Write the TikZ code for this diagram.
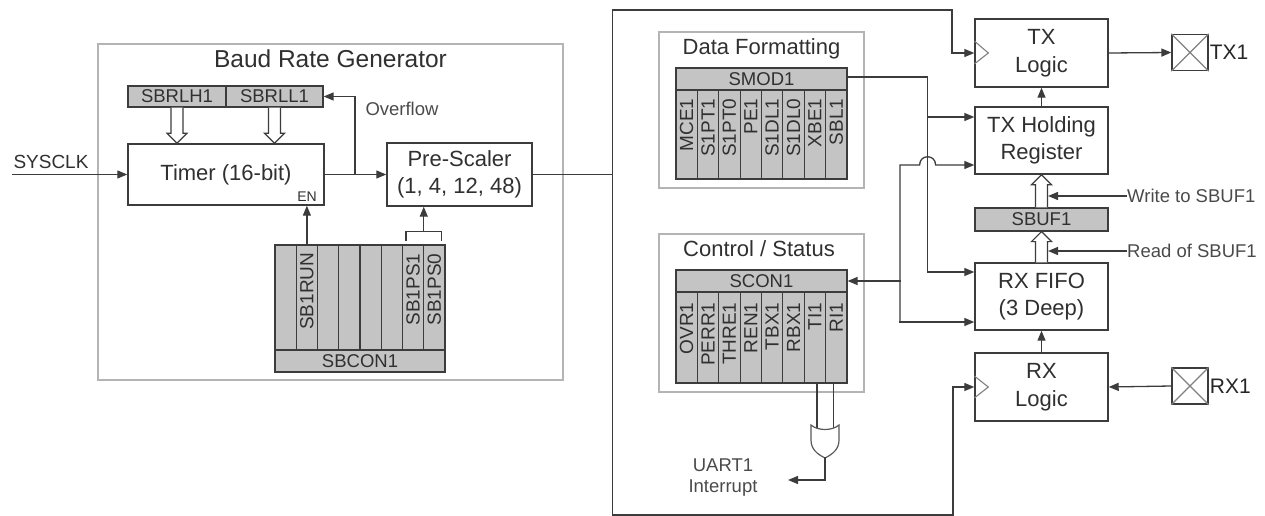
\documentclass[tikz,border=0pt]{standalone}
\usepackage{fontspec}
\setmainfont{Liberation Sans}
\usetikzlibrary{arrows.meta,calc}
\definecolor{ln}{HTML}{3C3C3C}
\definecolor{grp}{HTML}{B4B4B4}
\definecolor{regf}{HTML}{C4C4C4}
\definecolor{txt}{HTML}{303030}
\definecolor{stxt}{HTML}{4A4A4A}
\newcommand\hollowarr[3]{\filldraw[hollow] let \p1=#1, \p2=#2 in
  (\x1-6pt,\y1) -- (\x1-6pt,\y2#310pt) -- (\x1-10pt,\y2#310pt) -- (\x1,\y2)
  -- (\x1+10pt,\y2#310pt) -- (\x1+6pt,\y2#310pt) -- (\x1+6pt,\y1);}
\begin{document}
\begin{tikzpicture}[x={(1pt,0)}, y={(0,-1pt)},
  font=\fontsize{22}{27}\selectfont, text=txt,
  box/.style={draw=ln, line width=1.4pt, fill=white, inner sep=0pt, align=center},
  grpbox/.style={draw=grp, line width=1.1pt, inner sep=0pt},
  reg/.style={draw=ln, line width=1.2pt, fill=regf, inner sep=0pt, font=\fontsize{18.5}{20}\selectfont},
  bitlbl/.style={rotate=90, anchor=east, inner sep=0pt, font=\fontsize{19}{20}\selectfont},
  wire/.style={draw=ln, line width=1.3pt, line cap=rect},
  arr/.style={wire, -{Triangle[length=10pt,width=8pt]}},
  small/.style={font=\fontsize{18.5}{21}\selectfont, text=stxt, inner sep=0pt},
  hollow/.style={draw=ln, line width=1.2pt, fill=white},
  clk/.style={draw=gray, line width=1.1pt},
  gate/.style={draw=ln!85, line width=1.2pt, fill=white},
  pin/.style={draw=ln, line width=1.3pt, minimum width=36pt, minimum height=36pt, inner sep=0pt},
  pinlbl/.style={anchor=west, inner sep=1pt, font=\fontsize{21}{23}\selectfont, text=black!85}
]
\useasboundingbox (0,0) rectangle (1265,516);

% ---------- group boxes ----------
\node[grpbox, minimum width=465pt, minimum height=336pt] (brg) at (330.5,212) {};
\node[anchor=base, font=\fontsize{24.5}{27}\selectfont] (brgt) at (330.5,68) {Baud Rate Generator};
\node[grpbox, minimum width=205pt, minimum height=156pt] (dfg) at (761.5,110) {};
\node[anchor=base] (dfgt) at (761.5,55) {Data Formatting};
\node[grpbox, minimum width=205pt, minimum height=158pt] (csg) at (761.5,313) {};
\node[anchor=base] (csgt) at (759,256) {Control / Status};

% ---------- baud rate generator ----------
\node[reg, minimum width=98pt, minimum height=21pt] (sbrlh) at (177,96.5) {SBRLH1};
\node[reg, minimum width=97pt, minimum height=21pt] (sbrll) at (274.5,96.5) {SBRLL1};
\node[box, minimum width=196pt, minimum height=61pt] (timer) at (226,174.5) {Timer (16-bit)};
\node[inner sep=0pt, font=\fontsize{14}{16}\selectfont] (en) at (307,197) {EN};
\node[box, minimum width=145pt, minimum height=63pt] (pre) at (459.5,174.5) {Pre-Scaler\\(1, 4, 12, 48)};

\foreach \i in {1,...,8}
  \node[reg, minimum width=21.25pt, minimum height=105pt] (sbc-\i) at ({275+21.25*(\i-0.5)},297.5) {};
\node[reg, minimum width=170pt, minimum height=22pt] (sbcon) at (360,361) {SBCON1};
\node[bitlbl] at ($(sbc-2.north)+(0,8)$) {SB1RUN};
\node[bitlbl] at ($(sbc-7.north)+(0,9)$) {SB1PS1};
\node[bitlbl] at ($(sbc-8.north)+(0,9)$) {SB1PS0};

\hollowarr{(sbrlh.south)}{(sbrlh.south |- timer.north)}{+}
\hollowarr{(sbrll.south)}{(sbrll.south |- timer.north)}{+}

\coordinate (sys) at (13,174.5);
\node[small, text=txt, font=\fontsize{19}{21}\selectfont] (sysl) at (51,162) {SYSCLK};
\draw[arr] (sys) -- (timer.west);
\draw[arr] (timer.east) -- (pre.west);
\coordinate (ov) at (355,174.5);
\draw[arr] (ov) |- (sbrll.east);
\node[small] (ovl) at (402,109) {Overflow};
\draw[arr] (sbc-2.north) -- (sbc-2.north |- timer.south);
\draw[wire] ($(sbc-7.north)+(-7,-4)$) -- ++(0,-9) -| ($(sbc-8.north)+(7,-4)$);
\coordinate (brm) at ($(sbc-7.north)!0.5!(sbc-8.north)+(0,-13)$);
\draw[arr] (brm) -- (brm |- pre.south);

% ---------- data formatting ----------
\node[reg, minimum width=171pt, minimum height=22pt] (smod) at (761.5,79) {SMOD1};
\foreach \i/\t in {1/MCE1,2/S1PT1,3/S1PT0,4/PE1,5/S1DL1,6/S1DL0,7/XBE1,8/SBL1}{
  \node[reg, minimum width=21.375pt, minimum height=89pt] (smb-\i) at ({676+21.375*(\i-0.5)},134.5) {};
  \node[bitlbl] at ($(smb-\i.north)+(0,9)$) {\t};
}

% ---------- control / status ----------
\node[reg, minimum width=171pt, minimum height=22pt] (scon) at (761.5,281) {SCON1};
\foreach \i/\t in {1/OVR1,2/PERR1,3/THRE1,4/REN1,5/TBX1,6/RBX1,7/TI1,8/RI1}{
  \node[reg, minimum width=21.375pt, minimum height=91pt] (scb-\i) at ({676+21.375*(\i-0.5)},337.5) {};
  \node[bitlbl] at ($(scb-\i.north)+(0,11)$) {\t};
}

% OR gate and interrupt
\draw[wire] ($(scb-7.south)+(2,0)$) -- ++(0,46);
\draw[wire] ($(scb-8.south)+(-3,0)$) -- ++(0,46);
\coordinate (gt) at (825,425);
\draw[gate] ($(gt)+(-14,0)$) .. controls ($(gt)+(-7,6)$) and ($(gt)+(7,6)$) .. ($(gt)+(14,0)$)
  -- ($(gt)+(14,15)$) .. controls ($(gt)+(14,24)$) and ($(gt)+(8,29)$) .. ($(gt)+(0,33)$)
  .. controls ($(gt)+(-8,29)$) and ($(gt)+(-14,24)$) .. ($(gt)+(-14,15)$) -- cycle;
\coordinate (orout) at ($(gt)+(0,33)$);
\coordinate (irq) at (788,480);
\draw[arr] (orout) |- (irq);
\node[small, align=center] (irql) at (723,478) {UART1\\Interrupt};

% ---------- right column ----------
\node[box, minimum width=133pt, minimum height=68pt, font=\fontsize{22}{28}\selectfont] (txl) at (1041.5,53) {TX\\Logic};
\node[box, minimum width=133pt, minimum height=67pt] (txh) at (1041.5,140.5) {TX Holding\\Register};
\node[reg, minimum width=133pt, minimum height=23pt] (sbuf) at (1041.5,219.5) {SBUF1};
\node[box, minimum width=133pt, minimum height=67pt] (rxf) at (1041.5,296.5) {RX FIFO\\(3 Deep)};
\node[box, minimum width=133pt, minimum height=68pt, font=\fontsize{22}{28}\selectfont] (rxl) at (1041.5,387) {RX\\Logic};

\draw[clk] ($(txl.west)+(0,-12)$) -- ($(txl.west)+(14,0)$) -- ($(txl.west)+(0,11)$);
\draw[clk] ($(rxl.west)+(0,-11)$) -- ($(rxl.west)+(14,0)$) -- ($(rxl.west)+(0,11)$);

\node[pin] (tx1) at (1190,52.5) {};
\draw[clk] (tx1.north west) -- (tx1.south east) (tx1.north east) -- (tx1.south west);
\node[pinlbl] at (tx1.east) {TX1};
\node[pin] (rx1) at (1190,386) {};
\draw[clk] (rx1.north west) -- (rx1.south east) (rx1.north east) -- (rx1.south west);
\node[pinlbl] at (rx1.east) {RX1};

\draw[arr] (txl.east) -- (tx1.west);
\draw[arr] (rx1.west) -- (rxl.east);
\draw[arr] (txh.north) -- (txl.south);
\draw[arr] (rxl.north) -- (rxf.south);
\hollowarr{(sbuf.north)}{(sbuf.north |- txh.south)}{-}
\hollowarr{(rxf.north)}{(rxf.north |- sbuf.south)}{-}

\coordinate (wtip) at ($(sbuf.north)+(6.5,0)$);
\node[small, anchor=west, inner sep=1pt] (wr) at (1126,196) {Write to SBUF1};
\draw[arr] (wr.west) -- (wr.west -| wtip);
\node[small, anchor=west, inner sep=1pt] (rd) at (1126,251) {Read of SBUF1};
\draw[arr] (rd.west) -- (rd.west -| wtip);

% ---------- clock wire loop ----------
\coordinate (j) at ($(pre.east)+(80,0)$);
\coordinate (ttop) at (952,10);
\coordinate (bbot) at (953,515);
\draw[arr] (pre.east) -- (j) |- (ttop) |- (txl.west);
\draw[arr] (j) |- (bbot) |- (rxl.west);

% ---------- formatting / status wires ----------
\coordinate (v1) at ($(smod.east)+(80,-2)$);
\coordinate (b1) at ($(txh.west)+(0,-23.5)$);
\coordinate (b2) at ($(txh.west)+(0,24.5)$);
\coordinate (b3) at ($(rxf.west)+(0,25.5)$);
\coordinate (b4) at ($(rxf.west)+(0,-24.5)$);
\coordinate (v2) at (900,200);
\draw[arr] ($(smod.east)+(0,-2)$) -- (v1) |- (b4);
\draw[arr] (v1 |- b1) -- (b1);
\coordinate (hop) at (v1 |- b2);
\draw[arr] (v2 |- b3) -- (v2 |- b2) -- ($(hop)+(-8,0)$) .. controls ($(hop)+(-8,-11)$) and ($(hop)+(8,-11)$) .. ($(hop)+(8,0)$) -- (b2);
\draw[arr] (v2 |- b3) -- (b3);
\draw[arr] (v2 |- scon.east) -- (scon.east);
\end{tikzpicture}
\end{document}
